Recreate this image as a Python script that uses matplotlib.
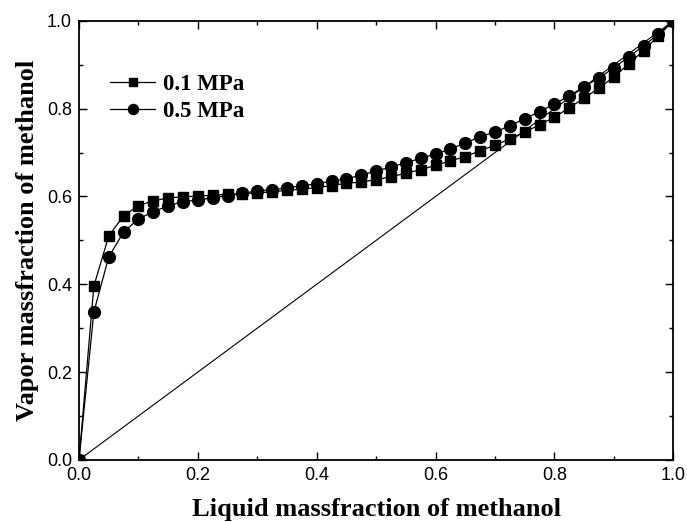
import numpy as np
import matplotlib.pyplot as plt
from matplotlib.ticker import MultipleLocator

# liquid-phase methanol mass fraction (common grid for both pressures)
x_liq = np.round(np.arange(0, 1.0001, 0.025), 3)

# vapor-phase methanol mass fraction at 0.1 MPa
y_01MPa = [0.000, 0.396, 0.510, 0.556, 0.579, 0.590, 0.597, 0.599, 0.601, 0.603,
           0.605, 0.606, 0.608, 0.611, 0.614, 0.617, 0.620, 0.625, 0.630, 0.633,
           0.638, 0.645, 0.653, 0.661, 0.671, 0.681, 0.691, 0.704, 0.717, 0.731,
           0.747, 0.763, 0.781, 0.802, 0.824, 0.847, 0.872, 0.902, 0.932, 0.966,
           1.000]

# vapor-phase methanol mass fraction at 0.5 MPa
y_05MPa = [0.000, 0.337, 0.462, 0.519, 0.549, 0.565, 0.579, 0.588, 0.592, 0.597,
           0.602, 0.607, 0.613, 0.615, 0.620, 0.624, 0.629, 0.635, 0.640, 0.649,
           0.658, 0.667, 0.677, 0.687, 0.697, 0.708, 0.722, 0.736, 0.747, 0.761,
           0.777, 0.793, 0.811, 0.829, 0.850, 0.870, 0.893, 0.918, 0.943, 0.970,
           1.000]

diag = [0.0, 1.0]
labels = ["0.1 MPa", "0.5 MPa"]

fig = plt.figure(figsize=(6.87, 5.22), dpi=100)
ax = fig.add_axes([0.115, 0.119, 0.865, 0.841])

ax.plot(diag, diag, color='k', lw=0.8)
ax.plot(x_liq, y_01MPa, color='k', lw=0.9, marker='s', ms=7, label=labels[0])
ax.plot(x_liq, y_05MPa, color='k', lw=0.9, marker='o', ms=8.5, label=labels[1])

ax.set_xlim(0, 1)
ax.set_ylim(0, 1)
ax.xaxis.set_major_locator(MultipleLocator(0.2))
ax.xaxis.set_minor_locator(MultipleLocator(0.1))
ax.yaxis.set_major_locator(MultipleLocator(0.2))
ax.yaxis.set_minor_locator(MultipleLocator(0.1))
ax.tick_params(which='both', direction='in', top=True, right=True, width=1.0)
ax.tick_params(which='major', length=6, pad=5)
ax.tick_params(which='minor', length=3)
for lab in ax.get_xticklabels() + ax.get_yticklabels():
    lab.set_fontfamily('Liberation Sans')
    lab.set_fontsize(13)
for s in ax.spines.values():
    s.set_linewidth(1.3)

ax.set_xlabel("Liquid massfraction of methanol", family='Liberation Serif',
              weight='bold', fontsize=19, labelpad=10.5)
ax.set_ylabel("Vapor massfraction of methanol", family='Liberation Serif',
              weight='bold', fontsize=19, labelpad=6)

# legend markers a bit smaller than the plotted ones
leg = ax.legend(loc='upper left', bbox_to_anchor=(0.037, 0.901), borderaxespad=0,
                frameon=False, markerscale=0.85,
                prop={'family': 'Liberation Serif', 'weight': 'bold', 'size': 16.5},
                handlelength=1.95, handletextpad=0.35, labelspacing=0.3)

fig.savefig("out.png", dpi=100)
